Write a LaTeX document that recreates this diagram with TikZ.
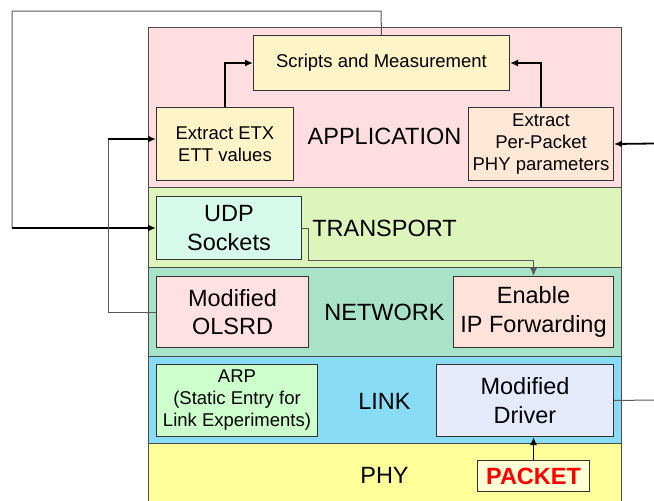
\documentclass[tikz,border=0pt]{standalone}
\usepackage{fontspec}
\setmainfont{Liberation Sans}
\usepackage{xcolor}
\usepackage{tikz}
\usetikzlibrary{arrows.meta}

\definecolor{appbg}{HTML}{FFDEE1}
\definecolor{transbg}{HTML}{DDF5BA}
\definecolor{netbg}{HTML}{A8E2C9}
\definecolor{linkbg}{HTML}{88DCF5}
\definecolor{phybg}{HTML}{FFFF99}
\definecolor{yellowbox}{HTML}{FFF4C8}
\definecolor{peachbox}{HTML}{FFE8D6}
\definecolor{mintbox}{HTML}{D6FBEA}
\definecolor{pinkbox}{HTML}{FFE1E4}
\definecolor{salmonbox}{HTML}{FFE3DB}
\definecolor{greenbox}{HTML}{CCFFCC}
\definecolor{lavbox}{HTML}{E5EBFC}
\definecolor{packetbox}{HTML}{FFFFD6}

\begin{document}
\begin{tikzpicture}[
  x = 1pt, y = -1pt,
  every node/.style = {font = \fontsize{23.5}{28.5}\selectfont, align = center},
  layer/.style = {draw = black!70, line width = 1pt, anchor = north west, inner sep = 0pt,
                  minimum width = 473pt},
  box/.style = {draw = black!80, line width = 1pt, anchor = north west, inner sep = 0pt},
  small/.style = {font = \fontsize{18.5}{22}\selectfont},
  wire/.style = {draw = black!65, line width = 1pt},
  arr/.style = {draw = black, line width = 1.8pt, -{Latex[length = 8pt, width = 7pt]}}
  ]
  \useasboundingbox (0,0) rectangle (654,501);

  % layers
  \node[layer, fill = appbg, minimum height = 160pt] (lapp) at (148,27) {};
  \node[layer, fill = transbg, minimum height = 80pt] (ltrans) at (148,187) {};
  \node[layer, fill = netbg, minimum height = 89pt] (lnet) at (148,267) {};
  \node[layer, fill = linkbg, minimum height = 87pt] (llink) at (148,356) {};
  \node[layer, fill = phybg, minimum height = 80pt] (lphy) at (148,443) {};

  \node (tapp) at (384.5,136.5) {APPLICATION};
  \node (ttrans) at (384.5,228.5) {TRANSPORT};
  \node (tnet) at (384.5,312) {NETWORK};
  \node (tlink) at (384.5,401) {LINK};
  \node (tphy) at (384.5,475.5) {PHY};

  % boxes
  \node[box, small, fill = yellowbox, minimum width = 256pt, minimum height = 55pt]
    (scripts) at (253,35) {Scripts and Measurement};
  \node[box, small, fill = yellowbox, minimum width = 137pt, minimum height = 73pt]
    (etx) at (156,107) {Extract ETX\\ETT values};
  \node[box, small, fill = peachbox, minimum width = 145pt, minimum height = 73pt]
    (perpkt) at (468,107) {Extract\\Per-Packet\\PHY parameters};
  \node[box, fill = mintbox, minimum width = 145pt, minimum height = 63pt]
    (udp) at (156,196) {UDP\\Sockets};
  \node[box, fill = pinkbox, minimum width = 152pt, minimum height = 71pt]
    (olsrd) at (156,276) {Modified\\OLSRD};
  \node[box, fill = salmonbox, minimum width = 160pt, minimum height = 71pt]
    (ipfwd) at (453,276) {Enable\\IP Forwarding};
  \node[box, small, fill = greenbox, minimum width = 161pt, minimum height = 72pt]
    (arp) at (156,364) {ARP\\(Static Entry for\\Link Experiments)};
  \node[box, fill = lavbox, minimum width = 177pt, minimum height = 72pt]
    (driver) at (436,364) {Modified\\Driver};
  \node[box, fill = packetbox, minimum width = 112pt, minimum height = 31pt,
        font = \fontsize{23.5}{28}\selectfont\bfseries, text = red]
    (packet) at (477,460) {PACKET};

  % connectors
  \coordinate (loopa) at (381,11);
  \coordinate (loopb) at (12,228);
  \coordinate (loopc) at (108,139);
  \coordinate (udpbend) at (308,260);
  \coordinate (inphy) at (654,143.5);
  \coordinate (outdrv) at (654,400);

  \draw[wire] (scripts.north) -- (loopa) -| (loopb);
  \draw[arr] (loopb) -- (loopb -| udp.west);
  \draw[wire] (olsrd.west) -| (loopc);
  \draw[arr] (loopc) -- (loopc -| etx.west);
  \draw[arr] (etx.north) |- (scripts.west);
  \draw[arr] (perpkt.north) |- (scripts.east);
  \draw[arr] (inphy) -- (perpkt.east);
  \draw[wire, -{Latex[length = 8pt, width = 7pt]}] (udp.east) -| (udpbend) -| (ipfwd.north);
  \draw[wire] (driver.east) -- (outdrv);
  \draw[arr] (packet.north) -- (packet.north |- driver.south);
\end{tikzpicture}
\end{document}
